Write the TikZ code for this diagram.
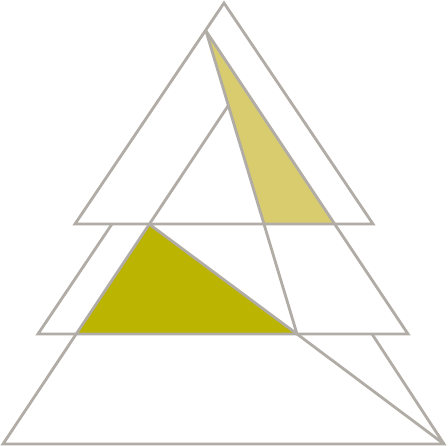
\documentclass[tikz,border=0pt]{standalone}
\usetikzlibrary{positioning}
\definecolor{edgegray}{HTML}{B1ACA6}
\definecolor{paleyellow}{HTML}{D8CC6E}
\definecolor{darkolive}{HTML}{BBB400}
\tikzset{edge/.style={draw=edgegray, line width=2.8pt}}

\begin{document}
\begin{tikzpicture}[x=1pt, y=-1pt]
        \useasboundingbox (0,0) rectangle (448,446);
        % Define corners
        \coordinate (apex) at (224,3);
        \coordinate (topL) at (75,224);
        \coordinate (topR) at (373,224);
        \coordinate (split) at (206,31);
        \coordinate (inner) at (228,106);
        \coordinate (midTopL) at (112,224);
        \coordinate (midL) at (38,334);
        \coordinate (midR) at (408,334);
        \coordinate (cutTop) at (264,224);
        \coordinate (cutR) at (334,224);
        \coordinate (cutL) at (149,224);
        \coordinate (olvL) at (77,334);
        \coordinate (foot) at (297,334);
        \coordinate (botTopR) at (372,334);
        \coordinate (botL) at (3,444);
        \coordinate (botR) at (444,444);

        % Fill triangles
        \fill[paleyellow] (split) -- (cutTop) -- (cutR) -- cycle;
        \fill[darkolive] (cutL) -- (olvL) -- (foot) -- cycle;

        % Draw edges
        \draw[edge] (apex) -- (topL) -- (topR) -- cycle;
        \draw[edge] (midTopL) -- (midL) -- (midR) -- (split);
        \draw[edge] (split) -- (foot) -- (botR);
        \draw[edge] (inner) -- (botL) -- (botR) -- (botTopR);
        \draw[edge] (cutL) -- (foot);
    \end{tikzpicture}
\end{document}
